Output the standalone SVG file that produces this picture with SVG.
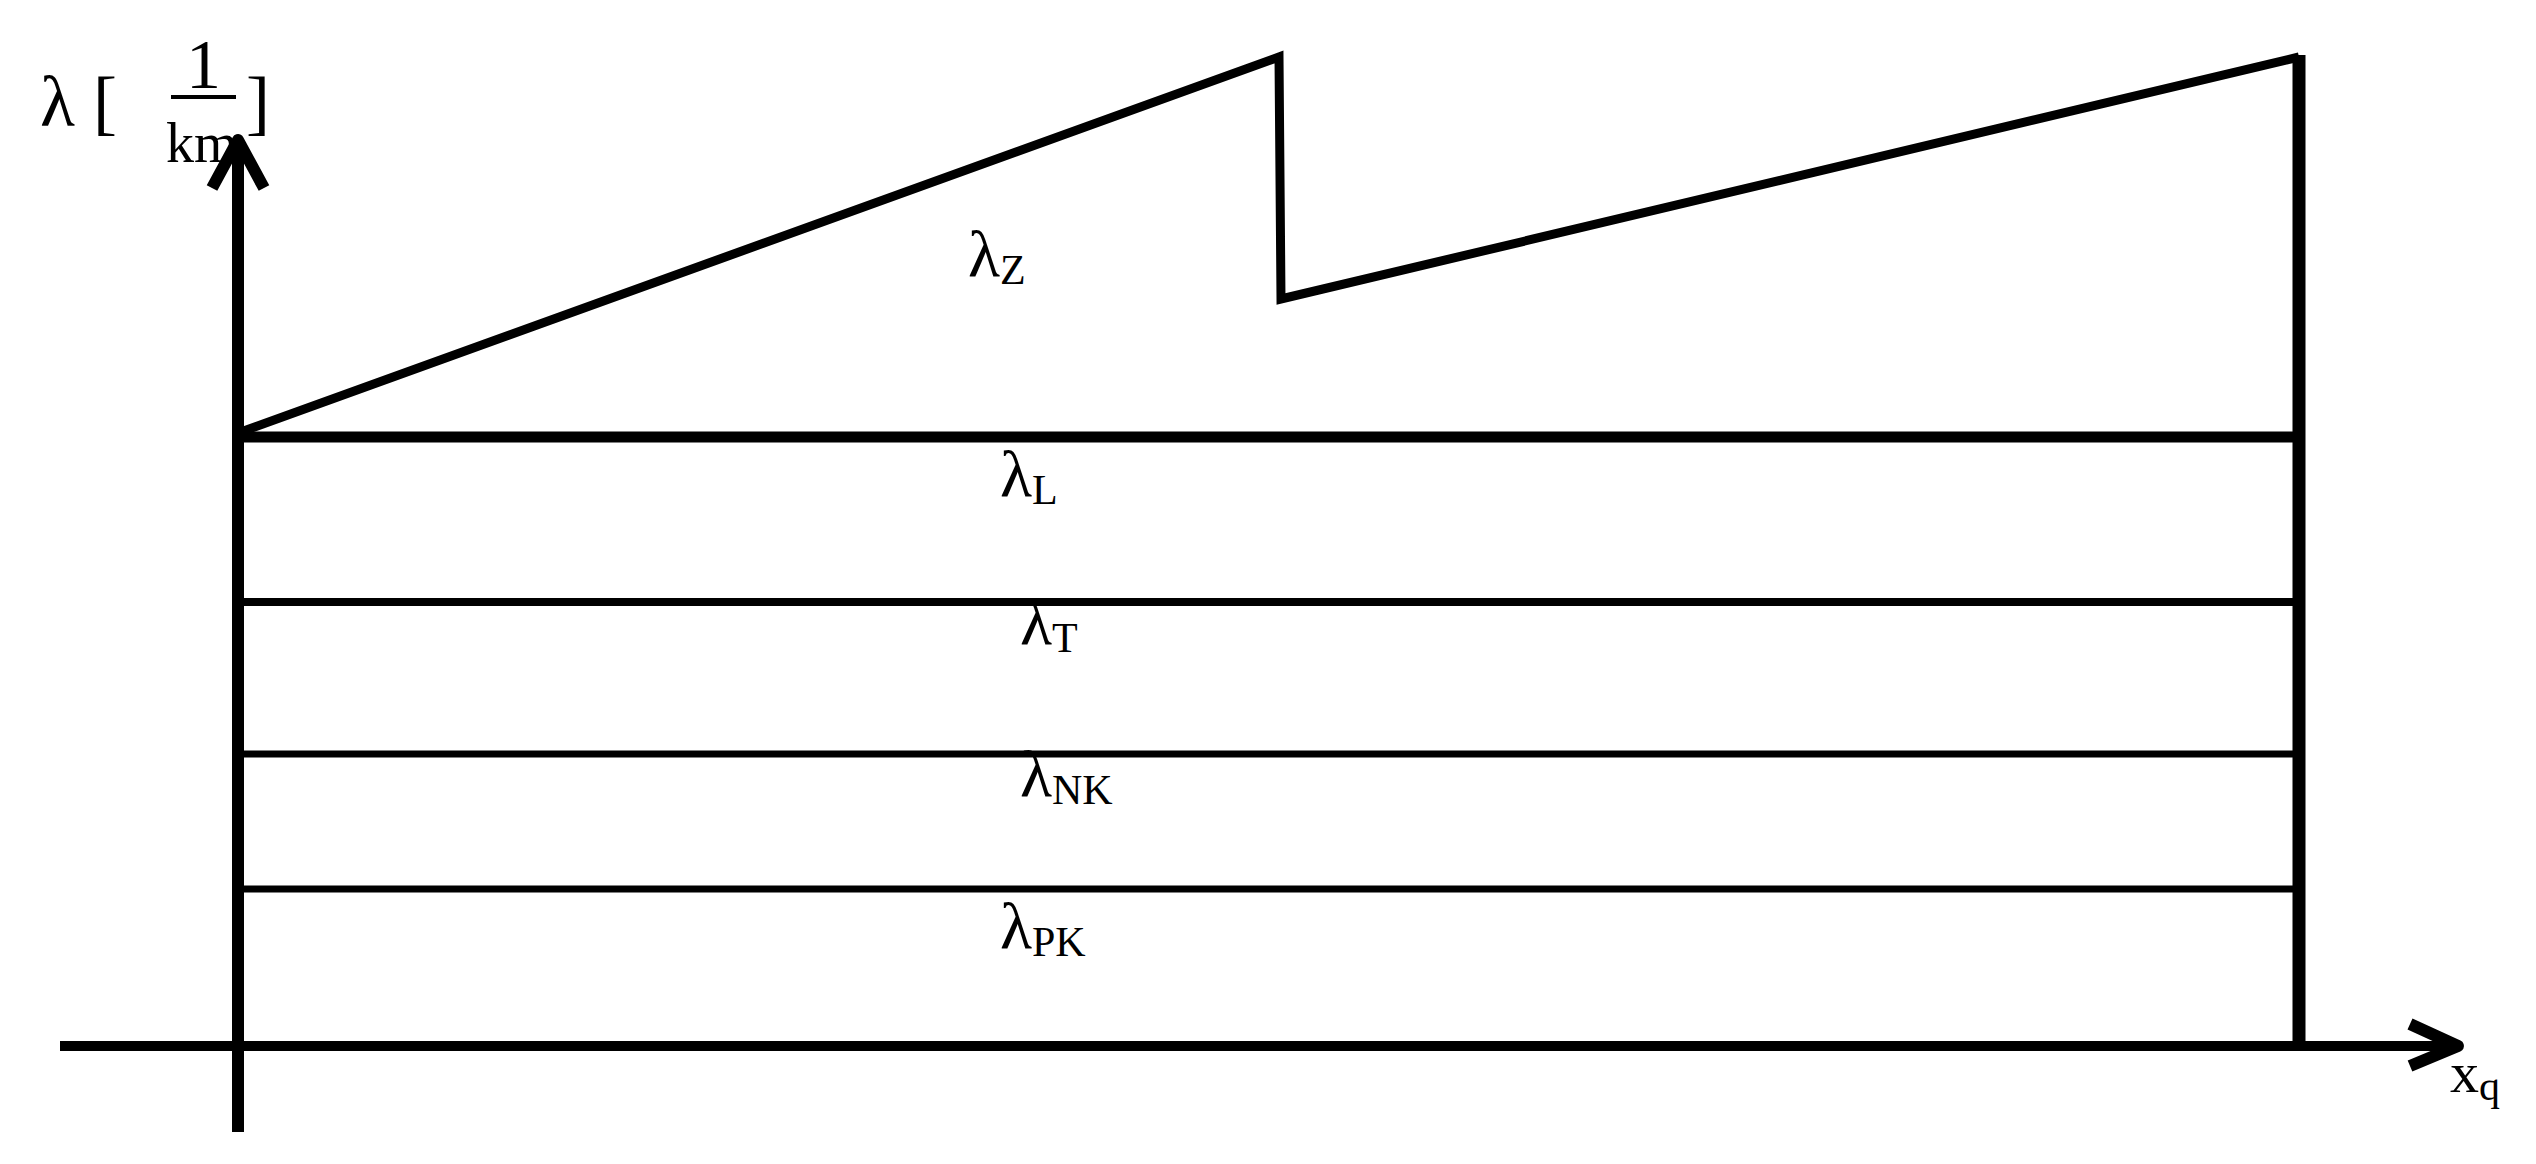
<svg xmlns="http://www.w3.org/2000/svg" width="2536" height="1164" viewBox="0 0 2536 1164">
<style>
.ln{stroke:#000;fill:none;stroke-linecap:butt}
.t{font-family:"Liberation Serif",serif;fill:#000}
.l{font-size:66px}
.s{font-size:42px}
</style>
<rect width="2536" height="1164" fill="#fff"/>
<g id="connectors">
<line class="ln" x1="238" y1="1132" x2="238" y2="146" stroke-width="12"/>
<polyline class="ln" points="212,188 238,140 264,188" stroke-width="12" stroke-linecap="round" stroke-linejoin="round"/>
<line class="ln" x1="60" y1="1046" x2="2455" y2="1046" stroke-width="10"/>
<polyline class="ln" points="2410,1024 2458,1046 2410,1066" stroke-width="12" stroke-linecap="round" stroke-linejoin="round"/>
<line class="ln" x1="2299" y1="55" x2="2299" y2="1046" stroke-width="13"/>
<polyline class="ln" points="238,433 1279,57 1281,299 2299,57" stroke-width="9"/>
<line class="ln" x1="238" y1="437" x2="2299" y2="437" stroke-width="11"/>
<line class="ln" x1="238" y1="602" x2="2299" y2="602" stroke-width="8"/>
<line class="ln" x1="238" y1="754" x2="2299" y2="754" stroke-width="7"/>
<line class="ln" x1="238" y1="889" x2="2299" y2="889" stroke-width="7"/>
<line class="ln" x1="171" y1="97" x2="236" y2="97" stroke-width="4"/>
</g>
<g id="ylabel">
<text class="t" x="40" y="126" font-size="72">λ [</text>
<text class="t" x="186" y="88" font-size="70">1</text>
<text class="t" x="166" y="162" font-size="56">km</text>
<text class="t" x="246" y="126" font-size="72">]</text>
</g>
<g id="lz"><text class="t l" x="968" y="276">λ<tspan class="s" dy="8">Z</tspan></text></g>
<g id="ll"><text class="t l" x="1000" y="496">λ<tspan class="s" dy="8">L</tspan></text></g>
<g id="lt"><text class="t l" x="1020" y="644">λ<tspan class="s" dy="8">T</tspan></text></g>
<g id="lnk"><text class="t l" x="1020" y="796">λ<tspan class="s" dy="8">NK</tspan></text></g>
<g id="lpk"><text class="t l" x="1000" y="948">λ<tspan class="s" dy="8">PK</tspan></text></g>
<g id="xq"><text class="t" x="2450" y="1092" font-size="58">x<tspan font-size="42" dy="8">q</tspan></text></g>
</svg>
